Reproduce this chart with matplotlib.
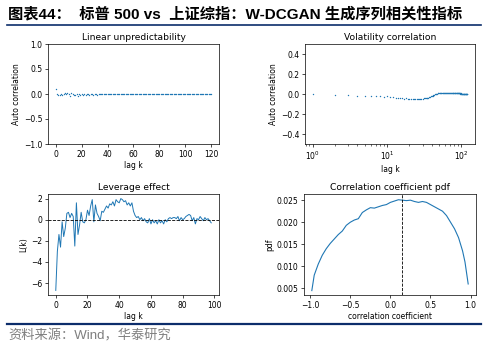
import numpy as np
import matplotlib
matplotlib.use("Agg")
import matplotlib.pyplot as plt

# 数据
lin_lag = list(range(0, 121))
lin_acf = [0.10, -0.00, -0.02, -0.01, 0.00, -0.01, 0.01, 0.02, 0.00, 0.02,
           0.01, -0.03, 0.02, 0.00, -0.01, -0.02, 0.01, -0.04, 0.00, -0.01,
           0.01, -0.02, 0.01, -0.01, 0.00, 0.01, -0.01, 0.00, 0.01, -0.01,
           0.00, 0.00, -0.01, 0.00, 0.005, -0.005, 0.002, -0.003, 0.001, 0.000,
           -0.002, 0.001, 0.000, -0.001, 0.002, 0.000, -0.001, 0.001, 0.000, -0.002,
           0.001, 0.000, -0.001, 0.000, 0.001, -0.001, 0.000, 0.001, 0.000, -0.001,
           0.000, 0.001, -0.001, 0.000, 0.000, 0.001, -0.001, 0.000, 0.001, 0.000,
           -0.001, 0.000, 0.001, 0.000, -0.001, 0.000, 0.000, 0.001, -0.001, 0.000,
           0.001, 0.000, -0.001, 0.000, 0.000, 0.001, 0.000, -0.001, 0.000, 0.001,
           0.000, -0.001, 0.000, 0.000, 0.001, 0.000, -0.001, 0.000, 0.001, 0.000,
           0.000, -0.001, 0.000, 0.001, 0.000, -0.001, 0.000, 0.000, 0.001, 0.000,
           -0.001, 0.000, 0.001, 0.000, 0.000, -0.001, 0.000, 0.001, 0.000, -0.001,
           0.000]

vol_lag = list(range(1, 121))
vol_acf = [0.000, -0.010, -0.010, -0.017, -0.017, -0.020, -0.020, -0.020, -0.025, -0.020,
           -0.025, -0.028, -0.035, -0.040, -0.038, -0.042, -0.045, -0.043, -0.047, -0.048,
           -0.050, -0.052, -0.053, -0.050, -0.052, -0.050, -0.048, -0.047, -0.045, -0.046,
           -0.044, -0.043, -0.042, -0.040, -0.038, -0.036, -0.032, -0.028, -0.024, -0.020,
           -0.016, -0.012, -0.008, -0.004, -0.001, 0.002, 0.004, 0.006, 0.008, 0.009,
           0.010, 0.011, 0.010, 0.012, 0.011, 0.010, 0.012, 0.013, 0.011, 0.010,
           0.012, 0.010, 0.011, 0.013, 0.010, 0.012, 0.011, 0.010, 0.012, 0.011,
           0.010, 0.013, 0.011, 0.012, 0.010, 0.011, 0.009, 0.012, 0.010, 0.011,
           0.012, 0.010, 0.011, 0.009, 0.010, 0.012, 0.010, 0.008, 0.009, 0.010,
           0.008, 0.009, 0.007, 0.008, 0.006, 0.007, 0.005, 0.006, 0.005, 0.004,
           0.005, 0.003, 0.004, 0.002, 0.004, 0.003, 0.001, 0.003, 0.002, 0.003,
           0.001, 0.002, 0.000, 0.002, 0.001, 0.003, 0.000, 0.002, 0.001, 0.002]

lev_lag = list(range(0, 99))
lev_L = [-6.7, -3.0, -1.4, -2.6, -0.2, -1.6, -0.8, 0.6, 0.7, 0.2,
         0.6, 0.3, -2.5, 1.6, -1.4, -0.5, 0.7, -0.2, -0.3, 0.0,
         0.9, 0.4, 1.3, 1.9, -0.2, 1.4, 0.6, 0.3, -0.1, 0.8,
         0.7, 1.0, 1.3, 1.1, 1.5, 1.4, 1.7, 1.3, 1.9, 1.7,
         1.6, 2.0, 1.9, 1.7, 1.8, 1.4, 1.6, 1.3, 1.6, 0.8,
         0.4, 0.2, 0.3, 0.0, 0.2, -0.1, 0.1, -0.2, -0.3, 0.1,
         -0.4, 0.0, -0.3, -0.1, -0.4, 0.0, -0.3, -0.1, -0.4, 0.0,
         -0.2, 0.1, 0.2, 0.1, 0.2, 0.2, 0.1, 0.3, -0.1, 0.2,
         0.0, 0.1, 0.3, 0.4, 0.5, 0.4, -0.1, 0.2, -0.4, 0.1,
         0.0, 0.3, 0.1, -0.1, 0.2, 0.0, 0.1, -0.1, -0.3]

pdf_x = [-0.98, -0.95, -0.90, -0.85, -0.80, -0.75, -0.70, -0.65, -0.60, -0.55,
         -0.50, -0.45, -0.40, -0.35, -0.30, -0.25, -0.20, -0.15, -0.10, -0.05,
         0.00, 0.05, 0.10, 0.15, 0.20, 0.25, 0.30, 0.35, 0.40, 0.45,
         0.50, 0.55, 0.60, 0.65, 0.70, 0.75, 0.80, 0.85, 0.90, 0.93,
         0.95, 0.97]
pdf_y = [0.0045, 0.0080, 0.0105, 0.0125, 0.0140, 0.0152, 0.0162, 0.0172, 0.0180, 0.0193,
         0.0200, 0.0205, 0.0208, 0.0222, 0.0228, 0.0233, 0.0232, 0.0235, 0.0238, 0.0240,
         0.0245, 0.0248, 0.0251, 0.0250, 0.0249, 0.0250, 0.0247, 0.0245, 0.0247, 0.0245,
         0.0240, 0.0235, 0.0230, 0.0225, 0.0215, 0.0200, 0.0185, 0.0165, 0.0135, 0.0110,
         0.0085, 0.0060]
pdf_mean = 0.15

plt.rcParams['font.family'] = ['DejaVu Sans']
plt.rcParams['font.size'] = 5.5
plt.rcParams['axes.linewidth'] = 0.5
plt.rcParams['xtick.major.width'] = 0.5
plt.rcParams['ytick.major.width'] = 0.5
plt.rcParams['xtick.minor.width'] = 0.4
plt.rcParams['xtick.major.size'] = 2
plt.rcParams['ytick.major.size'] = 2
plt.rcParams['xtick.minor.size'] = 1.2
plt.rcParams['xtick.major.pad'] = 2
plt.rcParams['ytick.major.pad'] = 2
plt.rcParams['axes.labelpad'] = 2

W, H = 492, 354
fig = plt.figure(figsize=(W / 100, H / 100), dpi=100)
blue = '#1f77b4'
navy = '#0c2d6b'
title_fs = 6.6


def box(l, t, r, b):
    return [l / W, 1 - b / H, (r - l) / W, (b - t) / H]


# 左上
ax1 = fig.add_axes(box(48, 44, 219, 144))
ax1.plot(lin_lag, lin_acf, '.', color=blue, ms=2.0, mew=0)
ax1.set_ylim(-1, 1)
ax1.set_xticks([0, 20, 40, 60, 80, 100, 120])
ax1.set_title("Linear unpredictability", fontsize=title_fs, pad=3)
ax1.set_xlabel("lag k")
ax1.set_ylabel("Auto correlation")

# 右上
ax2 = fig.add_axes(box(305, 44, 475, 144))
ax2.plot(vol_lag, vol_acf, '.', color=blue, ms=2.0, mew=0)
ax2.set_xscale('log')
ax2.set_ylim(-0.5, 0.5)
ax2.set_yticks([-0.4, -0.2, 0.0, 0.2, 0.4])
ax2.set_title("Volatility correlation", fontsize=title_fs, pad=3)
ax2.set_xlabel("lag k")
ax2.set_ylabel("Auto correlation")

# 左下
ax3 = fig.add_axes(box(48, 194, 219, 295))
ax3.plot(lev_lag, lev_L, color=blue, lw=0.7)
ax3.axhline(0, color='black', ls='--', lw=0.6)
ax3.set_title("Leverage effect", fontsize=title_fs, pad=3)
ax3.set_xlabel("lag k")
ax3.set_ylabel("L(k)")

# 右下
ax4 = fig.add_axes(box(304, 194, 476, 295))
ax4.plot(pdf_x, pdf_y, color=blue, lw=0.8)
ax4.axvline(pdf_mean, color='black', ls='--', lw=0.6)
ax4.set_ylim(0.0035, 0.0264)
ax4.set_yticks([0.005, 0.010, 0.015, 0.020, 0.025])
ax4.set_title("Correlation coefficient pdf", fontsize=title_fs, pad=3)
ax4.set_xlabel("correlation coefficient")
ax4.set_ylabel("pdf")

# 标题与来源
fig.text(8 / W, 1 - 14 / H, "图表44：  标普 500 vs  上证综指：W-DCGAN 生成序列相关性指标",
         family=['Liberation Sans', 'Noto Sans CJK SC'], fontweight='bold',
         fontsize=11, va='center', ha='left')
fig.add_artist(plt.Line2D([7 / W, 481 / W], [1 - 25 / H, 1 - 25 / H],
                          color=navy, lw=1.2))
fig.add_artist(plt.Line2D([7 / W, 481 / W], [1 - 324 / H, 1 - 324 / H],
                          color=navy, lw=1.6))
fig.text(8 / W, 1 - 336 / H, "资料来源：Wind，华泰研究",
         family=['Liberation Sans', 'Noto Sans CJK SC'], color='#7f7f7f',
         fontsize=9.5, va='center', ha='left')

fig.savefig("out.png", dpi=100)
